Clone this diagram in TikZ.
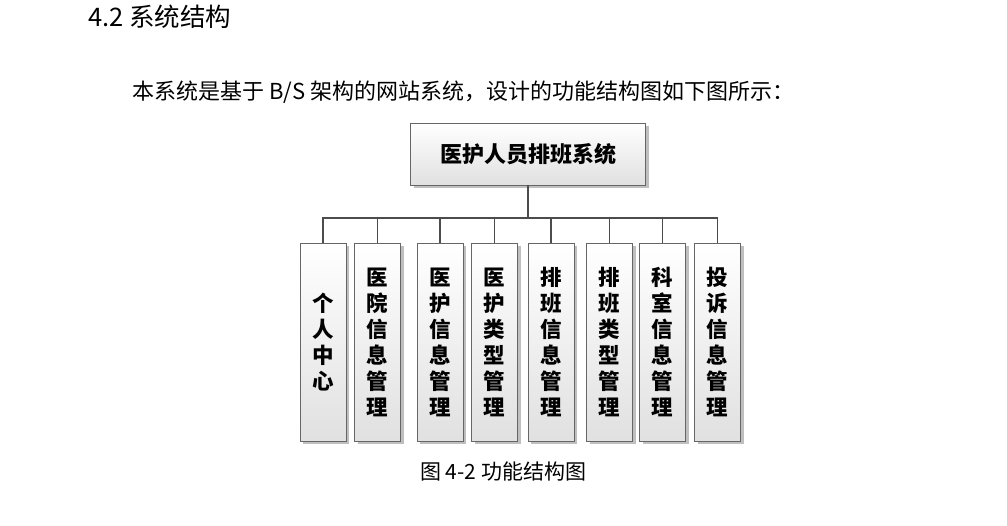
\documentclass[tikz,border=0pt]{standalone}
\usepackage{fontspec}
\setmainfont{Liberation Sans}
\newfontfamily\hei{Noto Sans CJK SC}
\usetikzlibrary{shadows}
\tikzset{
  box/.style={draw=black!60,line width=.9pt,top color=white,bottom color=black!12,
              drop shadow={shadow xshift=3pt,shadow yshift=-3pt,fill=black!25,opacity=1},
              inner sep=0pt,align=center},
  rootbox/.style={box,minimum width=235pt,minimum height=62pt,
                  font=\hei\bfseries\fontsize{22}{22}\selectfont},
  sub/.style={box,minimum width=46pt,minimum height=198pt,
              font=\hei\bfseries\fontsize{21.5}{26}\selectfont},
  link/.style={draw=black!70,line width=1.2pt},
  txt/.style={anchor=west,inner sep=0pt},
}

\begin{document}
\begin{tikzpicture}[x=1pt,y=-1pt]
  \useasboundingbox (0,0) rectangle (1007,526);
  \node[txt,font=\hei\fontsize{25.5}{25.5}\selectfont] (title) at (88,17){4.2 系统结构};
  \node[txt,font=\hei\fontsize{22}{22}\selectfont] (intro) at (132,92)
       {本系统是基于 B/S 架构的网站系统，设计的功能结构图如下图所示：};
  \node[rootbox] (sys) at (528,154){医护人员排班系统};
  \coordinate (bus) at (528,218);
  \node[sub] (c1) at (323,342){个\\人\\中\\心};
  \node[sub] (c2) at (377.5,342){医\\院\\信\\息\\管\\理};
  \node[sub] (c3) at (440,342){医\\护\\信\\息\\管\\理};
  \node[sub] (c4) at (494.5,342){医\\护\\类\\型\\管\\理};
  \node[sub] (c5) at (551,342){排\\班\\信\\息\\管\\理};
  \node[sub] (c6) at (609.5,342){排\\班\\类\\型\\管\\理};
  \node[sub] (c7) at (662.5,342){科\\室\\信\\息\\管\\理};
  \node[sub] (c8) at (717.5,342){投\\诉\\信\\息\\管\\理};
  \draw[link] (sys.south)--(bus);
  \draw[link] (c1.north) |- (bus) -| (c8.north);
  \draw[link] (c2.north)--(c2.north |- bus);
  \draw[link] (c3.north)--(c3.north |- bus);
  \draw[link] (c4.north)--(c4.north |- bus);
  \draw[link] (c5.north)--(c5.north |- bus);
  \draw[link] (c6.north)--(c6.north |- bus);
  \draw[link] (c7.north)--(c7.north |- bus);
  \node[font=\hei\fontsize{21}{21}\selectfont] (cap) at (503,472){图 4-2 功能结构图};
\end{tikzpicture}
\end{document}
